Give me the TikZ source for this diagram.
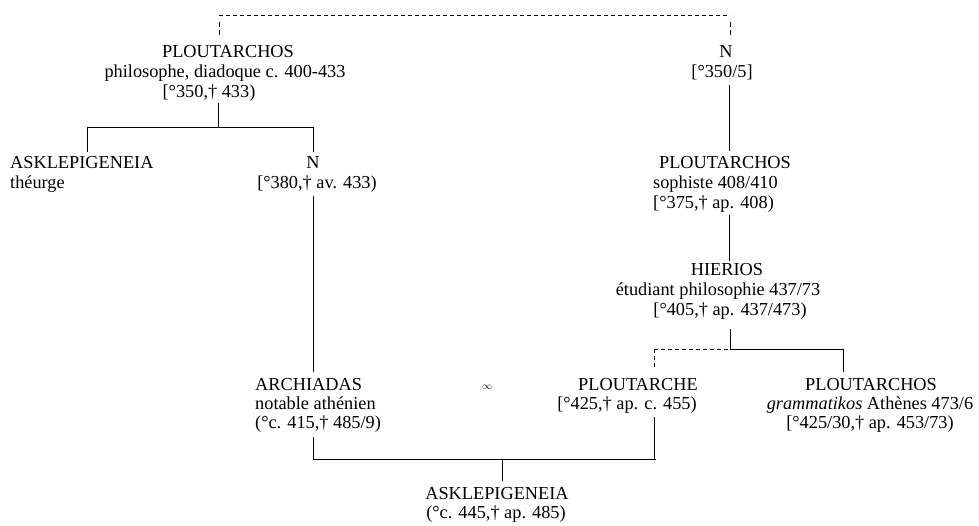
\documentclass[tikz,border=0pt]{standalone}
\usepackage{fontspec}
\setmainfont{Liberation Serif}
\begin{document}
\begin{tikzpicture}[x=1pt,y=-1pt,
  txt/.style={inner sep=0pt,anchor=base,font=\fontsize{18.3}{20}\selectfont},
  txtl/.style={txt,anchor=base west},
  rel/.style={draw=black,line width=0.8pt},
  dsh/.style={rel,dash pattern=on 4pt off 3pt}]
\useasboundingbox (0,0) rectangle (979,526);
% people
\node[txt] (pA1) at (228,58) {PLOUTARCHOS};
\node[txt] (pA2) at (225,78) {philosophe, diadoque c. 400-433};
\node[txt] (pA3) at (209,98) {[°350,† 433)};
\node[txt] (nB1) at (726,58) {N};
\node[txt] (nB2) at (722,78) {[°350/5]};
\node[txtl] (aC1) at (10,169) {ASKLEPIGENEIA};
\node[txtl] (aC2) at (10,189) {théurge};
\node[txt] (nD1) at (313,169) {N};
\node[txt] (nD2) at (317,189) {[°380,† av. 433)};
\node[txt] (pE1) at (725,169) {PLOUTARCHOS};
\node[txtl] (pE2) at (653,189) {sophiste 408/410};
\node[txtl] (pE3) at (653,209) {[°375,† ap. 408)};
\node[txt] (hF1) at (727,276) {HIERIOS};
\node[txt] (hF2) at (718,296) {étudiant philosophie 437/73};
\node[txt] (hF3) at (730,316) {[°405,† ap. 437/473)};
\node[txtl] (aG1) at (255,390) {ARCHIADAS};
\node[txtl] (aG2) at (255,409) {notable athénien};
\node[txtl] (aG3) at (255,428) {(°c. 415,† 485/9)};
\node[inner sep=0pt,font=\fontsize{10}{10}\selectfont] (marr) at (487,387) {$\infty$};
\node[txt] (pH1) at (638,390) {PLOUTARCHE};
\node[txt] (pH2) at (627,409) {[°425,† ap. c. 455)};
\node[txt] (pI1) at (871,390) {PLOUTARCHOS};
\node[txt] (pI2) at (870,409) {\textit{grammatikos} Athènes 473/6};
\node[txt] (pI3) at (870,428) {[°425/30,† ap. 453/73)};
\node[txt] (aJ1) at (497,499) {ASKLEPIGENEIA};
\node[txt] (aJ2) at (496,518) {(°c. 445,† ap. 485)};
% junction coordinates
\coordinate (tl) at (219,15); \coordinate (tr) at (730,15);
\coordinate (tlA) at (219,22); \coordinate (tlB) at (219,35);
\coordinate (trA) at (730,22); \coordinate (trB) at (730,35);
\coordinate (aDown) at (218,103); \coordinate (aBar) at (218,127);
\coordinate (barL) at (87,127); \coordinate (barR) at (313,127);
\coordinate (cTop) at (87,152); \coordinate (dTop) at (313,152);
\coordinate (bDown) at (729,85); \coordinate (eTop) at (729,151);
\coordinate (eDown) at (729,215); \coordinate (fTop) at (729,261);
\coordinate (fDown) at (730,329); \coordinate (fBar) at (730,349);
\coordinate (hBarL) at (654,349); \coordinate (hBarR) at (843,349);
\coordinate (hTop) at (654,368); \coordinate (iTop) at (843,372);
\coordinate (dDown) at (313,196); \coordinate (gTop) at (313,372);
\coordinate (gDown) at (313,437); \coordinate (gBar) at (313,459);
\coordinate (hDown) at (654,417); \coordinate (hBar) at (654,459);
\coordinate (bBarR) at (656,459);
\coordinate (jBar) at (502,459); \coordinate (jTop) at (502,481);
% connectors
\draw[dsh] (tl) -- (tr);
\draw[rel,dash pattern=on 5pt off 3pt] (tlA) -- (tlB);
\draw[rel,dash pattern=on 5pt off 3pt] (trA) -- (trB);
\draw[rel] (aDown) -- (aBar);
\draw[rel] (barL) -- (barR);
\draw[rel] (barL) -- (cTop);
\draw[rel] (barR) -- (dTop);
\draw[rel] (bDown) -- (eTop);
\draw[rel] (eDown) -- (fTop);
\draw[rel] (fDown) -- (fBar);
\draw[dsh] (hBarL) -- (fBar);
\draw[rel] (fBar) -- (hBarR);
\draw[dsh] (hBarL) -- (hTop);
\draw[rel] (hBarR) -- (iTop);
\draw[rel] (dDown) -- (gTop);
\draw[rel] (gDown) -- (gBar);
\draw[rel] (gBar) -- (bBarR);
\draw[rel] (hDown) -- (hBar);
\draw[rel] (jBar) -- (jTop);
\end{tikzpicture}
\end{document}
